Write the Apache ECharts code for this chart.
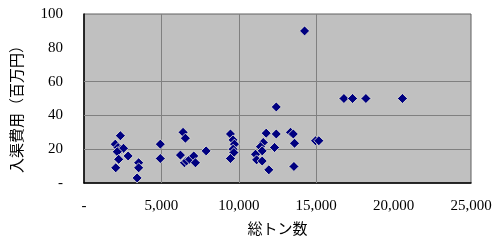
<!DOCTYPE html>
<html><head><meta charset="utf-8">
<script src="https://cdn.jsdelivr.net/npm/echarts@6/dist/echarts.min.js"></script>
<style>html,body{margin:0;padding:0;background:#fff}#c{width:500px;height:241px}</style>
</head><body><div id="c"></div>
<script>
// 総トン数 (x) vs 入渠費用 百万円 (y)
var tonnage = [2350,2020,2200,2400,2550,2150,2850,2240,2050,3530,3530,3430,
  4930,4930,
  6400,6550,6230,6490,6620,6830,7090,7200,7890,
  9460,9630,9720,9630,9680,9460,
  11770,12420,13340,13520,13600,12310,11580,11400,11510,11080,11150,11510,11940,13560,
  12420,14250,14960,15170,16790,17350,18210,20570];
var cost = [28,23,21,20,20.5,18.5,16,14,9,12,9,3,
  23,14.5,
  30,26.5,16.5,12,13,14,16,12,19,
  29,25.5,23,20,18,14.5,
  29.5,29,30,29,23.5,21,24,21.5,19,17,13.7,13,7.8,9.8,
  45,90,25,25,50,50,50,50];
var xTicks = [0,5000,10000,15000,20000,25000];
var yTicks = [0,20,40,60,80,100];
var gridX = [5000,10000,15000];
var gridY = [20,40,60];
var xTitle = '総トン数';
var yTitle = '入渠費用（百万円）';

var pts = tonnage.map(function(v,i){return [v,cost[i]];});
function fmt(v){ return v===0 ? '-' : v.toLocaleString('en-US'); }
var numFont = {fontFamily:'Liberation Serif', fontSize:15, color:'#000'};
var chart = echarts.init(document.getElementById('c'), null, {renderer:'canvas'});
chart.setOption({
  animation:false,
  grid:{left:84, right:29, top:14, bottom:57, show:true, backgroundColor:'#c0c0c0', borderColor:'#606060', borderWidth:1},
  xAxis:{type:'value', min:xTicks[0], max:xTicks[xTicks.length-1], interval:5000,
    axisLine:{show:true, lineStyle:{color:'#000', width:1.5}}, axisTick:{show:false},
    splitLine:{show:false},
    axisLabel:Object.assign({margin:16, formatter:fmt}, numFont),
    name:xTitle, nameLocation:'middle', nameGap:38,
    nameTextStyle:{fontFamily:'Noto Sans CJK JP', fontSize:15, color:'#000'}},
  yAxis:{type:'value', min:yTicks[0], max:yTicks[yTicks.length-1], interval:20,
    axisLine:{show:true, lineStyle:{color:'#000', width:1.5}}, axisTick:{show:false},
    splitLine:{show:false},
    axisLabel:Object.assign({margin:21, formatter:fmt}, numFont),
    name:yTitle, nameLocation:'middle', nameGap:60, nameRotate:90,
    nameTextStyle:{fontFamily:'Noto Sans CJK JP', fontSize:15, color:'#000', padding:[0,14,0,0]}},
  series:[{
    type:'scatter', data:pts, symbol:'diamond', symbolSize:10,
    itemStyle:{color:'#000080', borderColor:'#eeeed8', borderWidth:0.8, opacity:1},
    markLine:{silent:true, symbol:'none', z:1, label:{show:false},
      lineStyle:{color:'#808080', width:1, type:'solid'},
      data: gridX.map(function(v){return {xAxis:v};}).concat(gridY.map(function(v){return {yAxis:v};}))}
  }]
});
</script></body></html>
